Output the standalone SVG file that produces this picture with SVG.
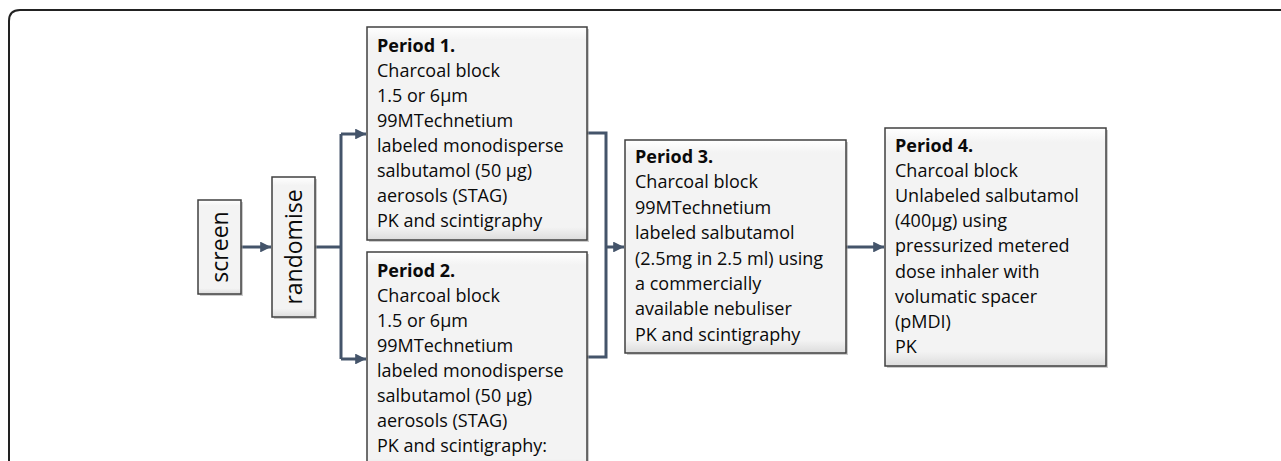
<svg xmlns="http://www.w3.org/2000/svg" width="1281" height="461" viewBox="0 0 1281 461">
<defs>
<linearGradient id="g" x1="0" y1="0" x2="0" y2="1">
<stop offset="0" stop-color="#ffffff"/>
<stop offset="0.06" stop-color="#f3f3f3"/>
<stop offset="0.94" stop-color="#f3f3f3"/>
<stop offset="1" stop-color="#dcdcdc"/>
</linearGradient>
<marker id="ah" viewBox="0 0 10 10" refX="10" refY="5" markerWidth="3.6" markerHeight="3.6" orient="auto" markerUnits="strokeWidth">
<path d="M0,0 L10,5 L0,10 z" fill="#44546a"/>
</marker>
<style>
.box{fill:url(#g);stroke:#404040;stroke-width:1.5}
.sh{fill:#9a9a9a;opacity:0.5}
.t{font-family:"Open Sans","DejaVu Sans",sans-serif;font-size:18px;fill:#0a0a0a}
.b{font-weight:bold}
.r{font-family:"Open Sans","DejaVu Sans",sans-serif;font-size:23px;fill:#0a0a0a}
.c{fill:none;stroke:#44546a;stroke-width:3}
</style>
</defs>
<rect width="1281" height="461" fill="#fff"/>
<path d="M9,470 L9,21 Q9,10 20,10 L1290,10" fill="none" stroke="#222" stroke-width="2"/>

<g id="connectors">
<path class="c" d="M241,247 L271,247" marker-end="url(#ah)"/>
<path class="c" d="M315,247 L341,247"/>
<path class="c" d="M341,134 L341,359"/>
<path class="c" d="M341,134 L366,134" marker-end="url(#ah)"/>
<path class="c" d="M341,359 L366,359" marker-end="url(#ah)"/>
<path class="c" d="M587,133 L606,133 L606,357 L587,357"/>
<path class="c" d="M606,247 L624,247" marker-end="url(#ah)"/>
<path class="c" d="M846,247 L884,247" marker-end="url(#ah)"/>
</g>

<g id="screen">
<rect class="sh" x="200" y="202" width="43" height="94"/>
<rect class="box" x="198" y="200" width="43" height="94"/>
<text class="r" transform="translate(228,247) rotate(-90)" text-anchor="middle">screen</text>
</g>

<g id="randomise">
<rect class="sh" x="274" y="179" width="43" height="140"/>
<rect class="box" x="272" y="177" width="43" height="140"/>
<text class="r" transform="translate(302,247) rotate(-90)" text-anchor="middle">randomise</text>
</g>

<g id="period1">
<rect class="sh" x="369" y="29" width="220" height="213"/>
<rect class="box" x="367" y="27" width="220" height="213"/>
<text class="t" x="377" y="52"><tspan class="b">Period 1.</tspan><tspan x="377" dy="25">Charcoal block</tspan><tspan x="377" dy="25">1.5 or 6µm</tspan><tspan x="377" dy="25">99MTechnetium</tspan><tspan x="377" dy="25">labeled monodisperse</tspan><tspan x="377" dy="25">salbutamol (50 µg)</tspan><tspan x="377" dy="25">aerosols (STAG)</tspan><tspan x="377" dy="25">PK and scintigraphy</tspan></text>
</g>

<g id="period2">
<rect class="sh" x="369" y="254" width="220" height="220"/>
<rect class="box" x="367" y="252" width="220" height="220"/>
<text class="t" x="377" y="277"><tspan class="b">Period 2.</tspan><tspan x="377" dy="25">Charcoal block</tspan><tspan x="377" dy="25">1.5 or 6µm</tspan><tspan x="377" dy="25">99MTechnetium</tspan><tspan x="377" dy="25">labeled monodisperse</tspan><tspan x="377" dy="25">salbutamol (50 µg)</tspan><tspan x="377" dy="25">aerosols (STAG)</tspan><tspan x="377" dy="25">PK and scintigraphy:</tspan></text>
</g>

<g id="period3">
<rect class="sh" x="627" y="142" width="221" height="213"/>
<rect class="box" x="625" y="140" width="221" height="213"/>
<text class="t" x="635" y="163"><tspan class="b">Period 3.</tspan><tspan x="635" dy="25.4">Charcoal block</tspan><tspan x="635" dy="25.4">99MTechnetium</tspan><tspan x="635" dy="25.4">labeled salbutamol</tspan><tspan x="635" dy="25.4">(2.5mg in 2.5 ml) using</tspan><tspan x="635" dy="25.4">a commercially</tspan><tspan x="635" dy="25.4">available nebuliser</tspan><tspan x="635" dy="25.4">PK and scintigraphy</tspan></text>
</g>

<g id="period4">
<rect class="sh" x="887" y="130" width="221" height="238"/>
<rect class="box" x="885" y="128" width="221" height="238"/>
<text class="t" x="895" y="152"><tspan class="b">Period 4.</tspan><tspan x="895" dy="25.1">Charcoal block</tspan><tspan x="895" dy="25.1">Unlabeled salbutamol</tspan><tspan x="895" dy="25.1">(400µg)  using</tspan><tspan x="895" dy="25.1">pressurized  metered</tspan><tspan x="895" dy="25.1">dose inhaler with</tspan><tspan x="895" dy="25.1">volumatic spacer</tspan><tspan x="895" dy="25.1">(pMDI)</tspan><tspan x="895" dy="25.1">PK</tspan></text>
</g>
</svg>
